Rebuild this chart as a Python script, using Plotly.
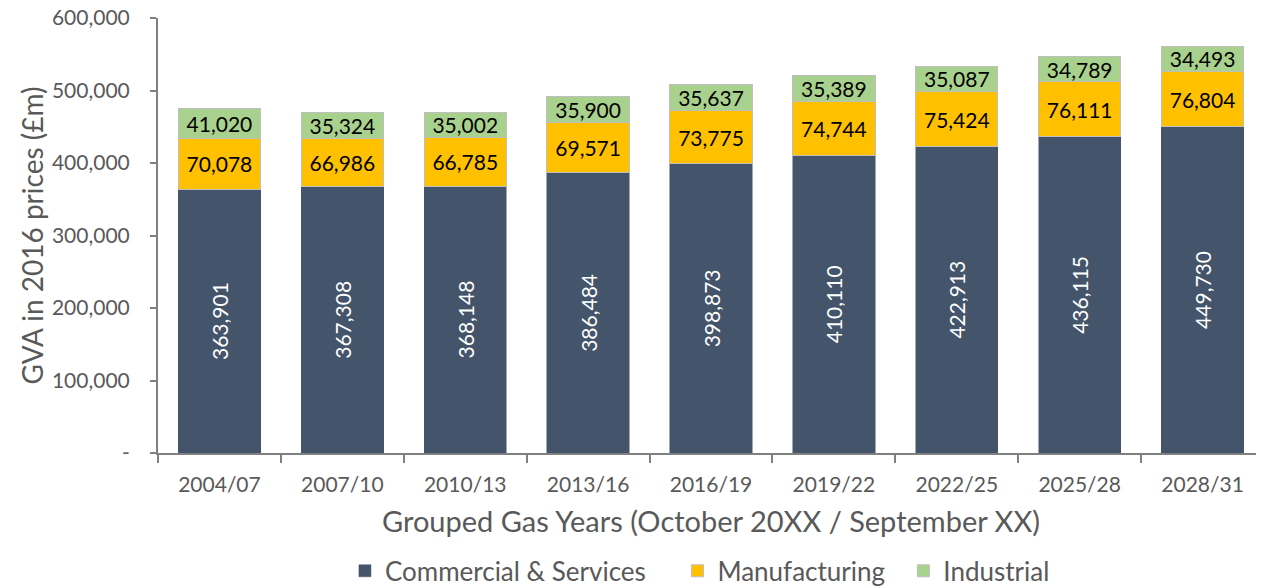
import plotly.graph_objects as go

categories = ["2004/07", "2007/10", "2010/13", "2013/16", "2016/19", "2019/22", "2022/25", "2025/28", "2028/31"]
commercial = [363901, 367308, 368148, 386484, 398873, 410110, 422913, 436115, 449730]
manufacturing = [70078, 66986, 66785, 69571, 73775, 74744, 75424, 76111, 76804]
industrial = [41020, 35324, 35002, 35900, 35637, 35389, 35087, 34789, 34493]
ytick_vals = [0, 100000, 200000, 300000, 400000, 500000, 600000]
ytick_text = ["-", "100,000", "200,000", "300,000", "400,000", "500,000", "600,000"]

FONT = "Lato"
LBL = 21
NB = "\u00a0"
fig = go.Figure()
fig.add_bar(x=categories, y=commercial, name="Commercial & Services" + NB * 4,
            marker=dict(color="#44546A", line=dict(color="#44546A", width=0.5)),
            text=[f"{v:,}" for v in commercial], textposition="inside",
            textangle=-90, insidetextanchor="middle", cliponaxis=False,
            textfont=dict(color="white", size=LBL, family=FONT))
fig.add_bar(x=categories, y=manufacturing, name="Manufacturing" + NB * 2,
            marker=dict(color="#FFC000", line=dict(color="#BFBFBF", width=1)),
            text=[f"{v:,}" for v in manufacturing], textposition="inside",
            textangle=0, insidetextanchor="middle", cliponaxis=False,
            textfont=dict(color="black", size=LBL, family=FONT))
fig.add_bar(x=categories, y=industrial, name="Industrial",
            marker=dict(color="#A9D18E", line=dict(color="#BFBFBF", width=1)),
            text=[f"{v:,}" for v in industrial], textposition="inside",
            textangle=0, insidetextanchor="middle", cliponaxis=False,
            textfont=dict(color="black", size=LBL, family=FONT))

# The page body has an 8px default margin, so the figure is sized to fit the window.
fig.update_layout(
    barmode="stack", bargap=0.33,
    width=1256, height=580,
    margin=dict(l=150, r=0, t=10, b=135, autoexpand=False),
    plot_bgcolor="white", paper_bgcolor="white",
    font=dict(family=FONT, color="#595959"),
    uniformtext=dict(minsize=LBL, mode="show"),
    legend=dict(orientation="h", x=0.49, xanchor="center", y=-0.271, yanchor="middle",
                font=dict(size=26, color="#595959"), traceorder="normal",
                itemwidth=30),
    xaxis=dict(showline=True, linecolor="#808080", linewidth=2, automargin=False,
               ticks="outside", ticklen=8, tickwidth=2, tickcolor="#808080",
               tickson="boundaries", ticklabelstandoff=12,
               tickfont=dict(size=21, color="#595959"),
               title=dict(text="Grouped Gas Years (October 20XX / September XX)",
                          font=dict(size=29, color="#595959"), standoff=16)),
    yaxis=dict(range=[0, 600000], tickvals=ytick_vals, ticktext=ytick_text,
               showline=True, linecolor="#808080", linewidth=2, automargin=False,
               ticks="outside", ticklen=6, tickwidth=2, tickcolor="#808080",
               showgrid=False, zeroline=False, ticklabelstandoff=16,
               ticklabeloverflow="allow",
               tickfont=dict(size=21, color="#595959"),
               title=dict(text="GVA in 2016 prices (£m)",
                          font=dict(size=28, color="#595959"), standoff=0)),
)
fig.write_html("out.html")
